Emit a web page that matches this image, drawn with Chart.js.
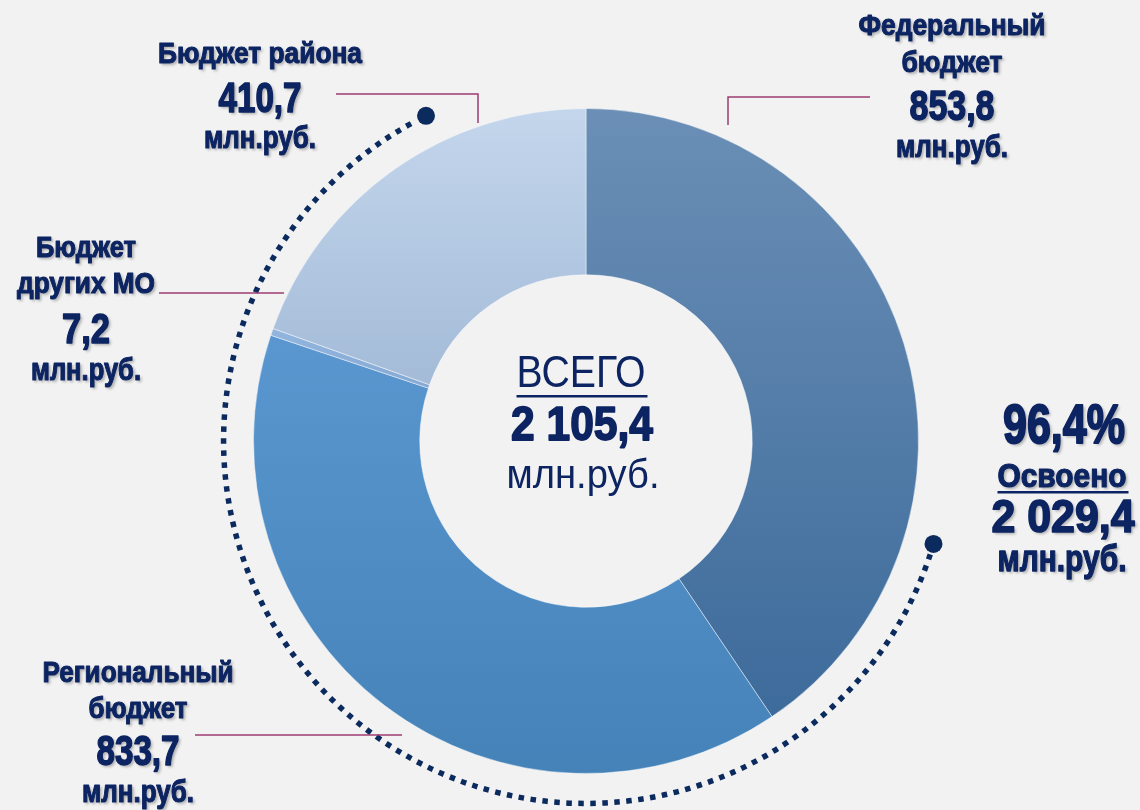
<!DOCTYPE html>
<html>
<head>
<meta charset="utf-8">
<script src="https://cdn.jsdelivr.net/npm/chart.js@4"></script>
<style>
  html, body { margin: 0; padding: 0; background: #f2f2f2; }
  #budgetChart { display: block; }
</style>
</head>
<body>
<canvas id="budgetChart" width="1140" height="810"></canvas>
<script>
// data
const categories = ['Федеральный бюджет', 'Региональный бюджет', 'Бюджет других МО', 'Бюджет района'];
const labelLines = [['Федеральный', 'бюджет'], ['Региональный', 'бюджет'], ['Бюджет', 'других МО'], ['Бюджет района']];
const values = [853.8, 833.7, 7.2, 410.7];
const assimilated = 2029.4;
const unit = 'млн.руб.';

// styles
const FONT = "'Liberation Sans', Arial, sans-serif";
const TEXT_COLOR = '#0c2461';
const LEADER_COLOR = '#9c3d73';
// [top colour, bottom colour, top stop, bottom stop] relative to chart area height
const sliceGradients = [
    ['#6b8fb6', '#3d6b9b', 0.0, 0.91],
    ['#5a97d0', '#4482b8', 0.34, 1.0],
    ['#93b6df', '#86a9d4', 0.33, 0.42],
    ['#c4d6ec', '#a3bbd8', 0.0, 0.42]
];
// label block: centre x, baselines, and rendered widths of each line (narrow face)
const labelPos = [
    {x: 952, y: [35, 72, 120, 157], w: [187, 101, 85, 112]},
    {x: 138, y: [682, 718, 765, 802], w: [191, 99, 83, 112]},
    {x: 86, y: [257, 293, 343, 380], w: [100, 138, 48, 110]},
    {x: 260, y: [63, 112, 148], w: [204, 83, 112]}
];
const leaderLines = [
    [[728, 125], [728, 97], [870, 97]],
    [[195, 735], [402, 735]],
    [[159, 293], [284, 293]],
    [[336, 94], [478, 94], [478, 123]]
];

function fmt(v) {
    var parts = v.toFixed(1).split('.');
    return parts[0].replace(/\B(?=(\d{3})+(?!\d))/g, ' ') + ',' + parts[1];
}

const total = values.reduce((a, b) => a + b, 0);
const percent = fmt(assimilated / total * 100) + '%';

function sliceColor(context) {
    const chart = context.chart;
    const area = chart.chartArea;
    const g = sliceGradients[context.dataIndex];
    if (!area) return g[0];
    const grad = chart.ctx.createLinearGradient(0, area.top, 0, area.bottom);
    if (g[2] > 0) grad.addColorStop(0, g[0]);
    grad.addColorStop(g[2], g[0]);
    grad.addColorStop(g[3], g[1]);
    if (g[3] < 1) grad.addColorStop(1, g[1]);
    return grad;
}

// draws centred text squeezed horizontally to the given width (imitates a narrow face)
function drawText(ctx, text, x, y, size, bold, width, underline, shadow) {
    ctx.save();
    ctx.font = (bold ? 'bold ' : '') + size + 'px ' + FONT;
    ctx.fillStyle = TEXT_COLOR;
    ctx.strokeStyle = TEXT_COLOR;
    ctx.textAlign = 'center';
    ctx.textBaseline = 'alphabetic';
    const sx = width / ctx.measureText(text).width;
    ctx.translate(x, y);
    if (shadow) {
        ctx.shadowColor = 'rgba(0,0,0,0.3)';
        ctx.shadowOffsetX = 2;
        ctx.shadowOffsetY = 2;
        ctx.shadowBlur = 3;
    }
    ctx.scale(sx, 1);
    ctx.fillText(text, 0, 0);
    if (bold) {
        ctx.shadowColor = 'transparent';
        ctx.lineWidth = size / 28;
        ctx.lineJoin = 'round';
        ctx.strokeText(text, 0, 0);
    }
    ctx.restore();
    if (underline) {
        ctx.save();
        ctx.fillStyle = TEXT_COLOR;
        ctx.fillRect(x - width / 2, y + underline, width + 2, 2.5);
        ctx.restore();
    }
}

const decorPlugin = {
    id: 'decor',
    afterDatasetsDraw(chart) {
        const ctx = chart.ctx;
        const arc = chart.getDatasetMeta(0).data[0];
        const cx = arc.x, cy = arc.y;
        const r = arc.outerRadius * 1.09;

        // dotted arc with end dots
        const a0 = 16.5 * Math.PI / 180;
        const a1 = 243.8 * Math.PI / 180;
        ctx.save();
        ctx.strokeStyle = '#0b2a5e';
        ctx.fillStyle = '#0b2a5e';
        ctx.lineWidth = 5.5;
        ctx.setLineDash([5.5, 6.5]);
        ctx.beginPath();
        ctx.arc(cx, cy, r, a0 + 0.03, a1 - 0.03, false);
        ctx.stroke();
        ctx.setLineDash([]);
        [a0, a1].forEach(a => {
            ctx.beginPath();
            ctx.arc(cx + r * Math.cos(a), cy + r * Math.sin(a), 9, 0, Math.PI * 2);
            ctx.fill();
        });
        ctx.restore();

        // leader lines
        ctx.save();
        ctx.strokeStyle = LEADER_COLOR;
        ctx.lineWidth = 1.5;
        leaderLines.forEach(pts => {
            ctx.beginPath();
            pts.forEach((p, i) => i ? ctx.lineTo(p[0], p[1]) : ctx.moveTo(p[0], p[1]));
            ctx.stroke();
        });
        ctx.restore();

        // category labels
        categories.forEach((c, i) => {
            const pos = labelPos[i];
            let k = 0;
            labelLines[i].forEach(t => { drawText(ctx, t, pos.x, pos.y[k], 29, true, pos.w[k], 0, true); k++; });
            drawText(ctx, fmt(values[i]), pos.x, pos.y[k], 42, true, pos.w[k], 0, true); k++;
            drawText(ctx, unit, pos.x, pos.y[k], 31, true, pos.w[k], 0, true);
        });

        // centre total
        drawText(ctx, 'ВСЕГО', 581, 387, 45, false, 129, 8, false);
        drawText(ctx, fmt(total), 582, 440, 49, true, 142, 0, false);
        drawText(ctx, unit, 583, 488, 40, false, 153, 0, false);

        // assimilated block
        drawText(ctx, percent, 1064, 443, 56, true, 122, 0, true);
        drawText(ctx, 'Освоено', 1062, 487, 34, true, 129, 4, true);
        drawText(ctx, fmt(assimilated), 1063, 532, 47, true, 143, 0, true);
        drawText(ctx, unit, 1062, 571, 36, true, 129, 0, true);
    }
};

new Chart(document.getElementById('budgetChart').getContext('2d'), {
    type: 'doughnut',
    data: {
        labels: categories,
        datasets: [{
            data: values,
            backgroundColor: sliceColor,
            borderColor: 'rgba(255,255,255,0.45)',
            borderWidth: 1,
            hoverOffset: 0,
            offset: 0
        }]
    },
    options: {
        responsive: false,
        animation: false,
        cutout: '50%',
        layout: {
            padding: {left: 253, right: 221, top: 108, bottom: 36}
        },
        plugins: {
            legend: { display: false },
            tooltip: { enabled: false }
        }
    },
    plugins: [decorPlugin]
});
</script>
</body>
</html>
